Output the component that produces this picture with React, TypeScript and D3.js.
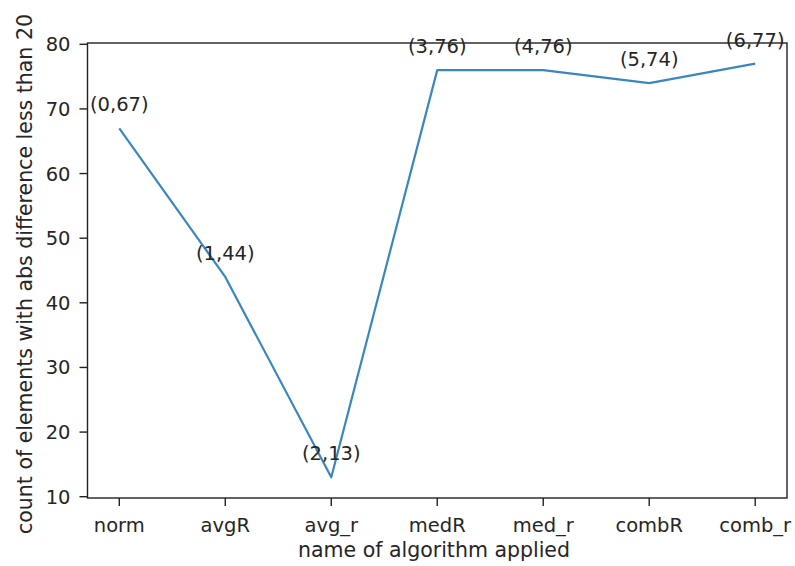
import React from 'react'
import * as d3 from 'd3'

const categories = ['norm', 'avgR', 'avg_r', 'medR', 'med_r', 'combR', 'comb_r']
const counts = [67, 44, 13, 76, 76, 74, 77]
const yTicks = [10, 20, 30, 40, 50, 60, 70, 80]

const width = 795
const height = 566
const plot = { left: 87.5, right: 787, top: 43, bottom: 498 }
const font = 'DejaVu Sans, sans-serif'
const textColor = '#262626'
const fontSize = 19.5
const labelSize = 20.5

export default function App() {
  const x = d3.scaleLinear().domain([-0.3, 6.3]).range([plot.left, plot.right])
  const y = d3.scaleLinear().domain([9.8, 80.2]).range([plot.bottom, plot.top])

  const line = d3.line<number>()
    .x((d, i) => x(i))
    .y(d => y(d))

  return (
    <svg width={width} height={height} style={{ position: 'absolute', left: 0, top: 0, background: '#fff' }}
      fontFamily={font}>
      {/* y ticks */}
      {yTicks.map(t => (
        <g key={t}>
          <line x1={plot.left - 8} x2={plot.left} y1={y(t)} y2={y(t)} stroke="#222" strokeWidth={1.4} />
          <text x={plot.left - 17} y={y(t)} dy="0.36em" textAnchor="end" fontSize={fontSize} fill={textColor}>{t}</text>
        </g>
      ))}
      {/* x ticks */}
      {categories.map((c, i) => (
        <g key={c}>
          <line x1={x(i)} x2={x(i)} y1={plot.bottom} y2={plot.bottom + 8} stroke="#222" strokeWidth={1.4} />
          <text x={x(i)} y={plot.bottom + 34} textAnchor="middle" fontSize={fontSize} fill={textColor}>{c}</text>
        </g>
      ))}

      <path d={line(counts) || ''} fill="none" stroke="#3a87bd" strokeWidth={2.2} strokeLinejoin="round" />

      <rect x={plot.left} y={plot.top} width={plot.right - plot.left} height={plot.bottom - plot.top}
        fill="none" stroke="#222" strokeWidth={1.4} />

      {/* point annotations */}
      {counts.map((v, i) => (
        <text key={i} x={x(i)} y={y(v) - 24} dy="0.36em" textAnchor="middle" fontSize={fontSize} fill={textColor}>
          ({i},{v})
        </text>
      ))}

      <text x={434} y={557} textAnchor="middle" fontSize={labelSize} fill={textColor}>
        name of algorithm applied
      </text>
      <text transform={`translate(32,274) rotate(-90)`} textAnchor="middle"
        fontSize={labelSize} fill={textColor}>
        count of elements with abs difference less than 20
      </text>
    </svg>
  )
}
